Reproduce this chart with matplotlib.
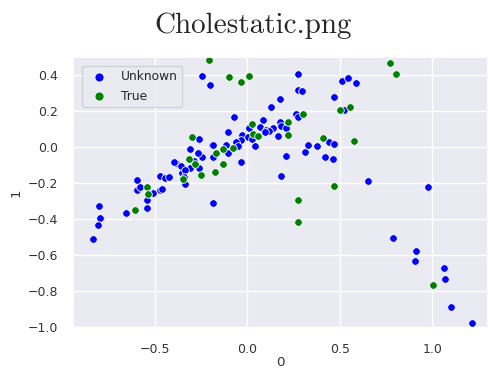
import matplotlib
matplotlib.use("Agg")
import matplotlib.pyplot as plt
import seaborn as sns

sns.set_theme(style="darkgrid")

# Embedding coordinates (component 0 vs component 1), split by label
unknown_x = [-0.242, -0.203, 0.276, 0.277, 0.296, 0.175, 0.128, -0.070, 0.467, 0.524,
             0.263, 0.272, 0.083, 0.178, 0.138, 0.184, 0.211, 0.025, 0.067, 0.103,
             0.119, 0.094, 0.011, 0.164, -0.029, -0.104, 0.004, 0.025, 0.043, -0.034,
             -0.059, -0.047, -0.188, -0.114, -0.104, -0.182, -0.245, -0.034, 0.209, 0.310,
             0.326, 0.377, 0.440, 0.470, 0.422, 0.463, 0.185, -0.182, 0.512, 0.542,
             0.589, 0.652, 0.977, 0.786, 0.914, 0.904, 1.061, 1.066, 1.099, 1.215,
             -0.258, -0.185, -0.308, -0.263, -0.286, -0.258, -0.308, -0.384, -0.358, -0.353,
             -0.335, -0.341, -0.334, -0.470, -0.443, -0.420, -0.596, -0.470, -0.458, -0.510,
             -0.593, -0.542, -0.542, -0.654, -0.798, -0.795, -0.807, -0.834, -0.577, -0.395]
unknown_y = [0.396, 0.347, 0.407, 0.317, 0.311, 0.267, 0.224, 0.166, 0.276, 0.207,
             0.183, 0.165, 0.150, 0.137, 0.104, 0.119, 0.108, 0.128, 0.109, 0.094,
             0.090, 0.085, 0.106, 0.059, 0.068, 0.085, 0.054, 0.044, 0.004, 0.041,
             0.026, 0.007, 0.011, 0.011, -0.035, -0.057, -0.057, -0.081, -0.048, -0.026,
             0.013, 0.007, 0.029, 0.017, -0.057, -0.067, -0.163, -0.313, 0.367, 0.382,
             0.354, -0.189, -0.222, -0.504, -0.578, -0.635, -0.670, -0.735, -0.887, -0.978,
             0.044, 0.013, -0.011, -0.033, -0.076, -0.118, -0.118, -0.089, -0.104, -0.144,
             -0.126, -0.165, -0.206, -0.159, -0.170, -0.167, -0.181, -0.237, -0.233, -0.256,
             -0.237, -0.296, -0.341, -0.367, -0.330, -0.393, -0.432, -0.509, -0.224, -0.085]

true_x = [-0.205, -0.096, -0.034, 0.009, 0.499, 0.557, 0.299, 0.218, 0.027, 0.218,
          0.031, 0.061, -0.131, -0.074, -0.168, -0.131, 0.412, 0.469, 0.272, 0.276,
          0.773, 0.802, 0.575, 1.002, -0.299, -0.312, -0.281, -0.250, -0.173, -0.348,
          -0.539, -0.534, -0.605]
true_y = [0.483, 0.387, 0.359, 0.393, 0.205, 0.220, 0.183, 0.141, 0.130, 0.068,
          0.072, 0.063, -0.011, -0.007, -0.035, -0.094, 0.050, -0.217, -0.294, -0.418,
          0.465, 0.404, 0.032, -0.767, 0.054, -0.067, -0.094, -0.156, -0.137, -0.178,
          -0.220, -0.261, -0.348]

series_labels = ["Unknown", "True"]
series_colors = ["blue", "green"]

fig = plt.figure(figsize=(4.88, 3.70), dpi=100)
ax = fig.add_axes([73 / 488, 1 - 328 / 370, 1 - 73 / 488, (328 - 57) / 370])

for xs, ys, lab, col in zip([unknown_x, true_x], [unknown_y, true_y],
                            series_labels, series_colors):
    ax.scatter(xs, ys, s=30, c=col, edgecolors="white", linewidths=0.6, label=lab)

ax.set_xlim(-0.94, 1.30)
ax.set_ylim(-1.005, 0.5)
ax.set_xticks([-0.5, 0.0, 0.5, 1.0])
ax.set_yticks([-1.0, -0.8, -0.6, -0.4, -0.2, 0.0, 0.2, 0.4])
ax.tick_params(labelsize=9, pad=5, labelcolor="0.2")
ax.set_xlabel("0", fontsize=9.6, labelpad=0, color="0.2")
ax.set_ylabel("1", fontsize=9.6, labelpad=3, color="0.2")

ax.legend(loc="upper left", fontsize=8.8, markerscale=1.2, frameon=True,
          borderaxespad=0.7)

# Title in the Computer Modern roman face bundled with matplotlib
fig.text(253 / 488, 1 - 33 / 370, "Cholestatic.png", fontsize=21,
         family="cmr10", ha="center", va="baseline")

fig.savefig("out.png", dpi=100)
